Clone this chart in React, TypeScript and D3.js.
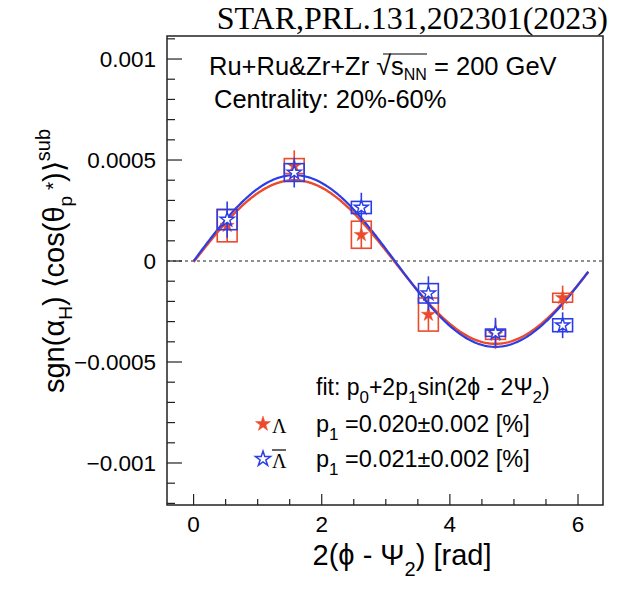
import React from "react";
import * as d3 from "d3";

const binCenters = [0.524, 1.571, 2.618, 3.665, 4.712, 5.76];
const lamVals = [0.000175, 0.00047, 0.00013, -0.000265, -0.000365, -0.000182];
const lamStat = [0.00008, 0.000078, 0.00007, 0.00008, 0.00007, 0.00006];
const lamSys = [0.00008, 0.000037, 0.000067, 0.000082, 0.000023, 0.000022];
const alamVals = [0.000205, 0.000438, 0.000265, -0.00016, -0.000355, -0.000318];
const alamStat = [0.00009, 0.000074, 0.000073, 0.000084, 0.000074, 0.000064];
const alamSys = [0.00005, 0.000044, 0.00003, 0.000048, 0.000018, 0.000032];
const fitLam = { p0: -0.000005, p1: 0.0002025 };
const fitALam = { p0: 0.0, p1: 0.0002125 };
const yTicks = [0.001, 0.0005, 0, -0.0005, -0.001];
const yTickLabels = ["0.001", "0.0005", "0", "\u22120.0005", "\u22120.001"];
const xTicks = [0, 2, 4, 6];
const xTickLabels = ["0", "2", "4", "6"];

const W = 628, H = 591;
const L = 167, R = 603, T = 36, B = 505;
const RED = "#ec4a2c";
const BLUE = "#2b3ee6";
const SANS = "'Liberation Sans', Arial, Helvetica, sans-serif";
const SERIF = "'Liberation Serif', 'Times New Roman', serif";

export default function App() {
  const x = d3.scaleLinear().domain([-0.415, 6.39]).range([L, R]);
  const y = d3.scaleLinear().domain([-0.001208, 0.001114]).range([B, T]);
  const star = d3.symbol().type(d3.symbolStar).size(62)()!;
  const starLeg = d3.symbol().type(d3.symbolStar).size(70)()!;
  const boxHalf = 0.155;

  const curve = (f: { p0: number; p1: number }) => {
    const pts = d3.range(0, 6.1701, 0.02).map((t) => [t, f.p0 + 2 * f.p1 * Math.sin(t)] as [number, number]);
    return d3.line<[number, number]>().x((d) => x(d[0])).y((d) => y(d[1]))(pts)!;
  };

  const yMinor = d3.range(-12, 12).map((i) => i * 0.0001).filter((v) => v >= -0.001208 && v <= 0.001114);
  const xMinor = d3.range(0, 13).map((i) => i * 0.5).filter((v) => v <= 6.39);

  const points = (vals: number[], stat: number[], sys: number[], color: string, filled: boolean) =>
    vals.map((v, i) => {
      const cx = x(binCenters[i]);
      const cy = y(v);
      return (
        <g key={i}>
          <rect x={x(binCenters[i] - boxHalf)} y={y(v + sys[i])} width={x(binCenters[i] + boxHalf) - x(binCenters[i] - boxHalf)}
            height={y(v - sys[i]) - y(v + sys[i])} fill="none" stroke={color} strokeWidth={1.6} />
          <line x1={cx} x2={cx} y1={y(v + stat[i])} y2={y(v - stat[i])} stroke={color} strokeWidth={1.6} />
          <path d={star} transform={`translate(${cx},${cy})`} fill={filled ? color : "#fff"} stroke={color} strokeWidth={filled ? 0.5 : 1.4} />
        </g>
      );
    });

  return (
    <svg width={W} height={H} style={{ position: "absolute", left: 0, top: 0, background: "#fff" }} fontFamily={SANS}>
      <rect x={0} y={0} width={W} height={H} fill="#fff" />
      <text x={608} y={29} textAnchor="end" fontFamily={SERIF} fontSize={32} fill="#000">STAR,PRL.131,202301(2023)</text>

      {/* zero line */}
      <line x1={L} x2={R} y1={y(0)} y2={y(0)} stroke="#222" strokeWidth={1.2} strokeDasharray="3,3" />

      {/* fit curves */}
      <path d={curve(fitLam)} fill="none" stroke={RED} strokeWidth={2.4} />
      <path d={curve(fitALam)} fill="none" stroke={BLUE} strokeWidth={2.2} />

      {points(lamVals, lamStat, lamSys, RED, true)}
      {points(alamVals, alamStat, alamSys, BLUE, false)}

      {/* frame */}
      <rect x={L} y={T} width={R - L} height={B - T} fill="none" stroke="#222" strokeWidth={1.5} />

      {/* y ticks */}
      {yMinor.map((v, i) => {
        const major = Math.abs(Math.round(v / 0.0005) * 0.0005 - v) < 1e-9;
        return <line key={i} x1={L} x2={L + (major ? 15 : 8)} y1={y(v)} y2={y(v)} stroke="#222" strokeWidth={1.2} />;
      })}
      {yTicks.map((v, i) => (
        <text key={i} x={156} y={y(v)} dy="0.36em" textAnchor="end" fontSize={22.5} fill="#000">{yTickLabels[i]}</text>
      ))}

      {/* x ticks */}
      {xMinor.map((v, i) => {
        const major = Math.abs(v % 2) < 1e-9;
        return <line key={i} x1={x(v)} x2={x(v)} y1={B} y2={B - (major ? 11 : 6)} stroke="#222" strokeWidth={1.2} />;
      })}
      {xTicks.map((v, i) => (
        <text key={i} x={x(v)} y={532} textAnchor="middle" fontSize={22.5} fill="#000">{xTickLabels[i]}</text>
      ))}

      {/* x title */}
      <text x={402} y={565} textAnchor="middle" fontSize={29} fill="#000">
        <tspan>2(ϕ - Ψ</tspan>
        <tspan fontSize={20} dy={11}>2</tspan>
        <tspan dy={-11}>) [rad]</tspan>
      </text>

      {/* y title */}
      <text transform={`translate(64,261) rotate(-90)`} textAnchor="middle" fontSize={29} fill="#000">
        <tspan>sgn(α</tspan>
        <tspan fontSize={19} dy={8}>H</tspan>
        <tspan dy={-8}>) ⟨cos(θ</tspan>
        <tspan fontSize={19} dy={8}>p</tspan>
        <tspan fontSize={21} dy={-12}> *</tspan>
        <tspan dy={4}>)⟩</tspan>
        <tspan fontSize={20} dy={-14}>sub</tspan>
      </text>

      {/* header texts */}
      <text x={209} y={75} fontSize={25.5} fill="#000">
        <tspan>Ru+Ru&amp;Zr+Zr </tspan>
        <tspan fontSize={27}>√</tspan>
        <tspan>s</tspan>
        <tspan fontSize={16} dy={5}>NN</tspan>
        <tspan dy={-5}> = 200 GeV</tspan>
      </text>
      <line x1={383} x2={427} y1={54} y2={54} stroke="#000" strokeWidth={1.2} />
      <text x={214} y={108} fontSize={25.5} fill="#000">Centrality: 20%-60%</text>

      {/* fit legend */}
      <text x={316} y={395} fontSize={23} fill="#000">
        <tspan>fit: p</tspan>
        <tspan fontSize={17} dy={8}>0</tspan>
        <tspan dy={-8}>+2p</tspan>
        <tspan fontSize={17} dy={8}>1</tspan>
        <tspan dy={-8}>sin(2ϕ - 2Ψ</tspan>
        <tspan fontSize={17} dy={8}>2</tspan>
        <tspan dy={-8}>)</tspan>
      </text>
      <path d={starLeg} transform="translate(263,424)" fill={RED} stroke={RED} strokeWidth={0.5} />
      <text x={272} y={433} fontFamily={SERIF} fontSize={20} fill="#000">Λ</text>
      <text x={316} y={432} fontSize={23.5} fill="#000">
        <tspan>p</tspan>
        <tspan fontSize={17} dy={8}>1</tspan>
        <tspan dy={-8}> =0.020±0.002 [%]</tspan>
      </text>
      <path d={starLeg} transform="translate(263,459)" fill="#fff" stroke={BLUE} strokeWidth={1.5} />
      <text x={272} y={468} fontFamily={SERIF} fontSize={20} fill="#000">Λ</text>
      <line x1={272} x2={286} y1={450} y2={450} stroke="#000" strokeWidth={1.2} />
      <text x={316} y={467} fontSize={23.5} fill="#000">
        <tspan>p</tspan>
        <tspan fontSize={17} dy={8}>1</tspan>
        <tspan dy={-8}> =0.021±0.002 [%]</tspan>
      </text>
    </svg>
  );
}
